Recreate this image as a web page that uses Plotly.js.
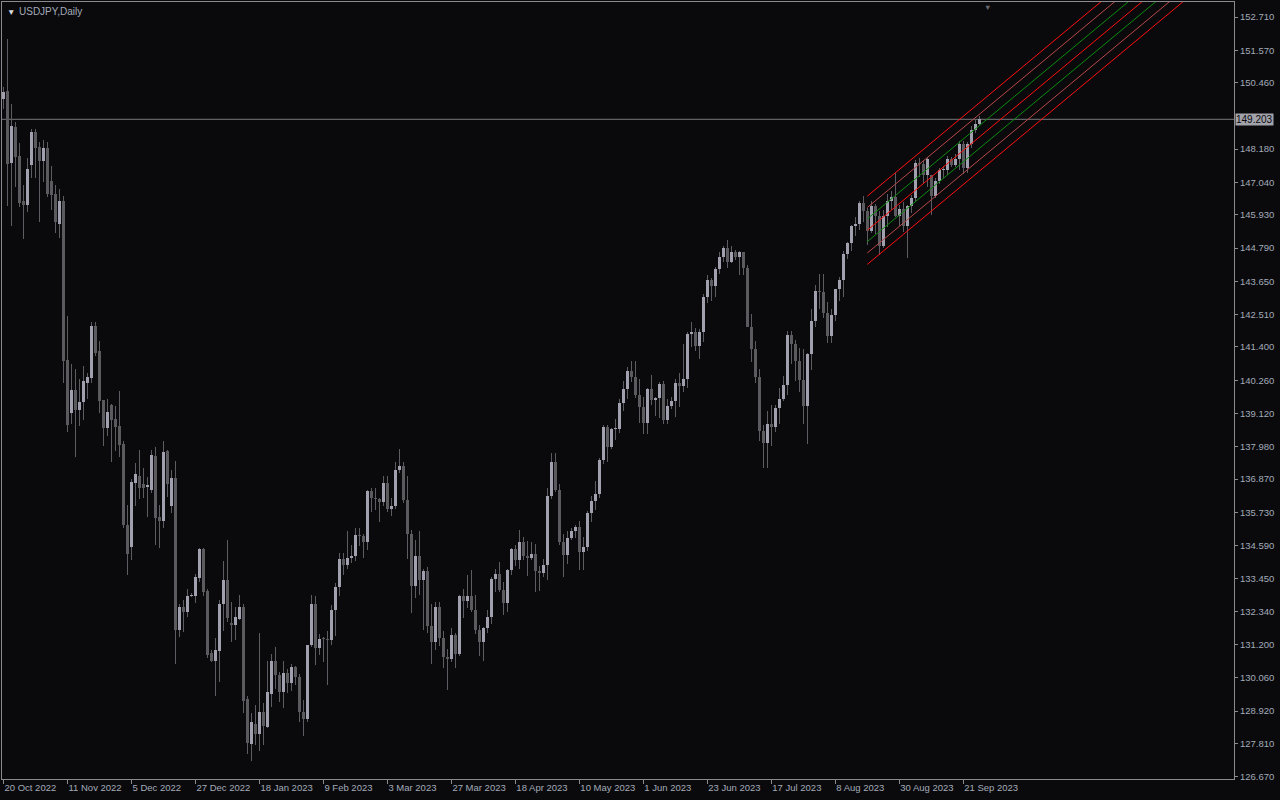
<!DOCTYPE html>
<html>
<head>
<meta charset="utf-8">
<script src="https://cdn.plot.ly/plotly-3.0.1.min.js"></script>
<style>html,body{margin:0;padding:0;background:#0a0a0d;}#chart{width:1280px;height:800px;}</style>
</head>
<body>
<div id="chart"></div>
<script>
// ---- DATA (USDJPY daily, 20 Oct 2022 .. 27 Sep 2023; x = bar number) ----
const opens = [
149.89,150.17,147.69,148.93,147.94,146.39,146.25,147.63,148.76,148.24,147.76,148.21,147.08,146.66,145.63,146.42,140.96,139.15,139.91,139.24,
139.50,140.17,140.33,142.13,141.25,139.59,138.61,139.41,138.93,138.69,138.08,135.29,134.55,136.75,136.98,136.70,136.60,136.50,137.67,135.57,
135.44,137.85,135.96,136.91,131.69,132.49,132.32,132.87,132.87,133.48,134.47,133.03,130.90,130.65,130.97,132.58,133.40,131.94,131.86,132.07,
132.49,129.32,127.79,128.49,128.15,128.90,128.39,129.49,130.65,130.17,129.59,130.24,129.87,130.44,130.08,128.90,128.65,131.19,132.60,131.08,
131.40,131.39,131.35,132.38,133.16,134.14,133.92,134.16,134.25,134.97,134.91,134.72,136.46,136.24,136.18,136.10,136.74,135.86,135.95,137.17,
137.33,136.14,134.99,133.20,134.22,133.40,133.71,131.85,131.30,132.50,131.43,130.77,130.72,131.54,130.88,132.85,132.70,132.85,132.40,131.70,
131.30,131.78,132.15,133.46,133.63,133.08,132.64,133.75,134.47,134.10,134.70,134.24,134.17,134.31,133.72,133.66,133.94,136.28,137.45,136.50,
134.70,134.28,134.86,135.10,135.23,134.36,134.53,135.70,136.12,136.36,137.52,138.66,137.96,138.58,138.60,139.48,139.97,140.59,140.38,139.77,
139.34,138.80,139.96,139.58,139.64,140.12,138.88,139.38,139.55,140.18,140.06,140.30,141.84,141.90,141.45,141.90,143.10,143.70,143.50,144.08,
144.48,144.79,144.31,144.67,144.48,144.64,144.09,142.10,141.33,140.38,138.52,138.10,138.76,138.66,139.30,139.62,140.08,141.81,141.50,140.93,
140.26,139.36,141.16,142.28,143.32,143.30,142.55,141.76,142.48,143.37,143.70,144.60,144.96,145.55,145.60,146.33,146.07,145.38,146.22,145.88,
144.85,145.88,146.41,146.54,145.88,146.14,145.53,146.22,146.50,147.70,147.66,147.29,147.30,146.56,147.10,147.45,147.46,147.84,147.62,147.85,
148.35,147.55,148.37,148.82,149.04
];
const highs = [
150.31,151.95,149.72,149.10,148.40,146.94,147.87,148.86,148.86,148.42,148.48,148.42,147.59,146.94,146.80,146.59,142.47,140.82,140.65,140.31,
140.75,140.51,142.27,142.27,141.61,139.59,139.63,139.45,139.38,139.90,138.16,135.98,136.87,137.42,137.87,137.26,136.95,137.87,137.97,135.98,
138.18,137.88,137.18,137.49,132.58,132.72,133.12,132.95,133.61,134.51,134.50,133.09,131.03,131.41,132.72,134.05,134.78,132.66,132.48,132.89,
132.58,129.42,128.86,129.14,131.58,129.18,130.65,130.89,131.11,130.25,130.62,130.35,130.52,130.48,130.18,129.30,131.20,132.90,132.88,131.55,
131.45,131.65,132.55,133.32,134.35,134.35,135.10,134.60,135.20,135.19,134.98,136.50,136.57,136.58,136.24,136.99,136.96,136.21,137.45,137.91,
137.44,136.99,135.11,134.80,135.10,133.80,133.87,132.60,132.65,132.65,131.68,131.05,131.75,131.60,132.90,133.10,133.60,133.75,132.90,131.86,
131.80,132.40,133.50,133.80,134.04,133.35,133.80,134.50,134.60,135.13,134.90,134.75,134.70,134.64,133.90,134.14,136.56,137.77,137.77,136.69,
135.00,135.10,135.21,135.30,135.44,134.89,135.79,136.30,136.80,137.60,138.73,138.73,138.62,138.92,139.60,140.23,140.73,140.93,140.93,140.30,
139.70,140.00,140.45,139.70,140.20,140.25,139.63,139.70,140.30,140.50,141.50,141.90,142.25,142.05,142.00,143.22,143.88,143.75,144.15,144.65,
144.87,145.07,144.85,144.72,144.68,144.67,144.22,142.52,141.60,140.66,138.73,139.20,139.40,139.40,139.99,140.40,141.95,141.95,141.63,141.35,
141.32,141.20,142.70,143.54,143.90,143.89,142.95,142.70,143.38,143.80,144.69,145.00,145.58,145.86,146.40,146.56,146.15,146.40,146.31,146.06,
146.10,146.63,146.75,147.37,146.25,146.38,146.28,146.60,147.80,147.87,147.80,147.91,147.30,147.20,147.55,147.60,147.95,147.90,148.00,148.45,
148.46,148.42,148.97,149.18,149.30
];
const lows = [
149.55,146.23,145.53,146.90,146.20,145.09,146.01,147.20,147.20,145.67,147.07,146.55,146.08,145.32,145.15,140.18,138.47,138.76,137.64,138.69,
138.88,139.62,140.17,141.08,139.15,138.02,138.36,137.47,137.85,137.64,135.18,133.58,134.09,135.96,136.19,136.23,135.58,136.40,134.61,134.50,
135.20,136.27,135.72,130.55,131.46,131.63,132.14,132.82,132.62,133.35,132.87,130.74,130.60,129.45,129.91,131.66,131.97,131.29,131.35,132.03,
128.84,127.46,127.20,127.77,127.56,127.77,128.33,129.06,129.69,129.22,129.03,129.55,129.60,129.83,128.55,128.08,128.55,131.10,130.50,130.85,
130.61,129.80,131.20,131.50,132.85,133.60,133.80,134.00,134.08,134.57,134.16,134.45,135.73,135.80,135.39,135.96,135.74,135.60,135.85,137.08,
136.05,134.12,132.28,132.80,132.90,131.70,131.60,130.55,131.00,131.15,130.40,129.64,130.60,130.40,130.80,132.10,132.45,132.30,131.55,130.80,
130.63,131.58,131.92,133.00,132.99,132.20,132.30,133.60,133.90,133.80,134.10,133.55,134.10,133.00,133.02,133.50,133.40,136.20,136.44,134.60,
133.50,133.95,134.80,134.85,133.75,133.74,134.40,135.40,135.80,136.24,137.40,137.45,137.90,138.20,138.46,139.20,139.60,140.20,139.65,138.80,
138.43,138.43,139.40,139.05,138.97,138.77,138.75,139.26,139.00,139.35,139.85,140.00,141.40,141.25,141.00,141.58,142.90,142.96,143.12,143.90,
144.30,144.12,144.27,144.37,143.88,143.88,142.07,140.90,140.15,138.16,137.24,137.25,138.00,138.50,138.76,139.55,139.75,140.80,140.25,139.85,
138.76,138.06,140.60,142.10,142.70,142.40,141.53,141.53,142.30,142.98,143.10,144.40,144.70,145.20,145.40,145.67,144.90,145.30,145.28,144.55,
144.80,145.50,146.10,145.85,145.55,145.35,144.44,146.00,146.40,147.22,146.97,146.90,145.91,146.50,146.98,147.20,147.30,147.56,147.57,147.45,
147.32,147.37,148.21,148.75,148.98
];
const closes = [
150.13,147.66,148.99,147.90,146.35,146.25,147.49,148.76,148.21,147.76,148.21,146.63,146.60,145.67,146.42,140.93,138.73,139.91,139.24,139.52,
140.22,140.38,142.13,141.21,139.56,138.61,139.17,138.90,138.67,138.04,135.29,134.30,136.77,137.05,136.58,136.58,136.67,137.70,135.54,135.44,
137.80,136.70,136.91,131.69,132.49,132.32,132.87,132.89,133.52,134.47,133.00,130.85,130.63,131.00,132.60,133.40,132.11,131.86,132.13,132.48,
129.25,127.81,128.56,128.15,128.90,128.42,129.59,130.65,130.17,129.59,130.24,129.87,130.44,130.08,128.90,128.65,131.19,132.60,131.08,131.40,
131.39,131.35,132.38,133.16,134.14,133.92,134.16,134.25,134.97,134.91,134.72,136.46,136.24,136.18,136.10,136.74,135.86,135.95,137.17,137.33,
136.14,134.99,133.20,134.22,133.40,133.71,131.85,131.30,132.50,131.43,130.77,130.72,131.54,130.88,132.85,132.70,132.85,132.40,131.70,131.30,
131.78,132.15,133.46,133.63,133.08,132.64,133.75,134.47,134.10,134.70,134.24,134.17,134.31,133.72,133.66,133.94,136.28,137.45,136.50,134.70,
134.28,134.86,135.10,135.23,134.36,134.53,135.70,136.12,136.36,137.52,138.66,137.96,138.58,138.60,139.48,139.97,140.59,140.38,139.77,139.34,
138.80,139.96,139.58,139.64,140.12,138.88,139.38,139.55,140.18,140.06,140.30,141.84,141.90,141.45,141.90,143.10,143.70,143.50,144.08,144.48,
144.79,144.31,144.67,144.48,144.64,144.09,142.10,141.33,140.38,138.52,138.10,138.76,138.66,139.30,139.62,140.08,141.81,141.50,140.93,140.26,
139.36,141.16,142.28,143.32,143.30,142.55,141.76,142.48,143.37,143.70,144.60,144.96,145.55,145.60,146.33,146.07,145.38,146.22,145.88,144.85,
145.88,146.41,146.54,145.88,146.14,145.53,146.22,146.50,147.70,147.66,147.29,147.83,146.56,147.10,147.45,147.46,147.84,147.62,147.85,148.35,
147.55,148.37,148.82,149.04,149.20
];
const currentPrice = 149.203;

const dateTickBars = [0,16,32,48,64,80,96,112,128,144,160,176,192,208,224,240];
const dateTickLabels = ['20 Oct 2022','11 Nov 2022','5 Dec 2022','27 Dec 2022','18 Jan 2023','9 Feb 2023','3 Mar 2023','27 Mar 2023',
  '18 Apr 2023','10 May 2023','1 Jun 2023','23 Jun 2023','17 Jul 2023','8 Aug 2023','30 Aug 2023','21 Sep 2023'];
const priceTicks = [152.71,151.57,150.46,148.18,147.04,145.93,144.79,143.65,142.51,141.40,140.26,139.12,137.98,136.87,135.73,134.59,133.45,132.34,131.20,130.06,128.92,127.81,126.67];

// regression channel (start/end bar, centre-line price at those bars, band offsets)
const channelBars = [216, 330];
const channelMid = [145.40, 158.40];
const channelOffsets = [1.17, 0.78, 0.39, 0, -0.39, -0.78, -1.17];
const channelColors = ['#ff1010','#b84848','#0c8c0c','#ff1010','#0c8c0c','#b84848','#ff1010'];

// ---- BUILD ----
const N = closes.length;
const bars = closes.map((_, i) => i);
const BG = '#0a0a0d', TXT = '#a3abb8', FRAME = '#8a8a90';
const minBody = 0.035;

const wick = {type:'bar', x:bars, base:lows, y:highs.map((h,i)=>h-lows[i]), width:0.22,
  marker:{color:'#5c5c62', line:{width:0}}, hoverinfo:'skip', showlegend:false};
const upX=[], upB=[], upY=[], dnX=[], dnB=[], dnY=[];
for (let i=0;i<N;i++){
  const o=opens[i], c=closes[i];
  const lo=Math.min(o,c), h=Math.max(Math.abs(c-o), minBody);
  if (c>=o){ upX.push(i); upB.push(lo); upY.push(h); }
  else { dnX.push(i); dnB.push(lo); dnY.push(h); }
}
const upBody = {type:'bar', x:upX, base:upB, y:upY, width:0.72, marker:{color:'#a0a0ae', line:{width:0}}, hoverinfo:'skip', showlegend:false};
const dnBody = {type:'bar', x:dnX, base:dnB, y:dnY, width:0.72, marker:{color:'#5a5a5f', line:{width:0}}, hoverinfo:'skip', showlegend:false};

const channelTraces = channelOffsets.map((off,k)=>({
  type:'scatter', mode:'lines', x:channelBars, y:channelMid.map(v=>v+off),
  line:{color:channelColors[k], width:1}, hoverinfo:'skip', showlegend:false, cliponaxis:true
}));

const layout = {
  width:1280, height:800,
  paper_bgcolor:BG, plot_bgcolor:BG,
  margin:{l:2, r:46, t:2, b:21},
  barmode:'overlay', bargap:0,
  showlegend:false,
  font:{family:'Liberation Sans, Arial, sans-serif', size:9.5, color:TXT},
  xaxis:{type:'linear', range:[-0.375, 307.7], showgrid:false, zeroline:false,
    showline:true, mirror:true, linecolor:FRAME, linewidth:1,
    ticks:'outside', ticklen:4, tickcolor:FRAME, tickwidth:1, tickangle:0,
    tickmode:'array', tickvals:dateTickBars, ticktext:dateTickLabels,
    ticklabelposition:'outside right', tickfont:{size:9.5, color:TXT}, fixedrange:true},
  yaxis:{range:[126.591, 153.224], side:'right', showgrid:false, zeroline:false,
    showline:true, mirror:true, linecolor:FRAME, linewidth:1,
    ticks:'outside', ticklen:3, tickcolor:FRAME, tickwidth:1,
    tickmode:'array', tickvals:priceTicks, ticktext:priceTicks.map(v=>v.toFixed(3)),
    tickfont:{size:9.5, color:TXT}, fixedrange:true},
  shapes:[{type:'line', xref:'paper', x0:0, x1:1, yref:'y', y0:currentPrice, y1:currentPrice,
    line:{color:'#77777c', width:1}, layer:'below'}],
  annotations:[
    {xref:'paper', yref:'paper', x:0, y:1, xanchor:'left', yanchor:'top', xshift:3, yshift:-3,
     text:'▼', showarrow:false, font:{size:8.5, color:'#d8d8dc'}},
    {xref:'paper', yref:'paper', x:0, y:1, xanchor:'left', yanchor:'top', xshift:15, yshift:-2,
     text:'USDJPY,Daily', showarrow:false, font:{size:10, color:TXT}},
    {xref:'x', yref:'paper', x:246, y:1, xanchor:'center', yanchor:'top', yshift:1,
     text:'▼', showarrow:false, font:{size:7.5, color:'#6a6a70'}},
    {xref:'paper', yref:'y', x:1, y:currentPrice, xanchor:'left', yanchor:'middle', xshift:1,
     text:currentPrice.toFixed(3), showarrow:false, bgcolor:'#a2a2aa', borderpad:0,
     font:{size:10, color:'#0a0a0d'}}
  ]
};

Plotly.newPlot('chart', [wick, upBody, dnBody, ...channelTraces], layout, {staticPlot:true, displayModeBar:false});
</script>
</body>
</html>
